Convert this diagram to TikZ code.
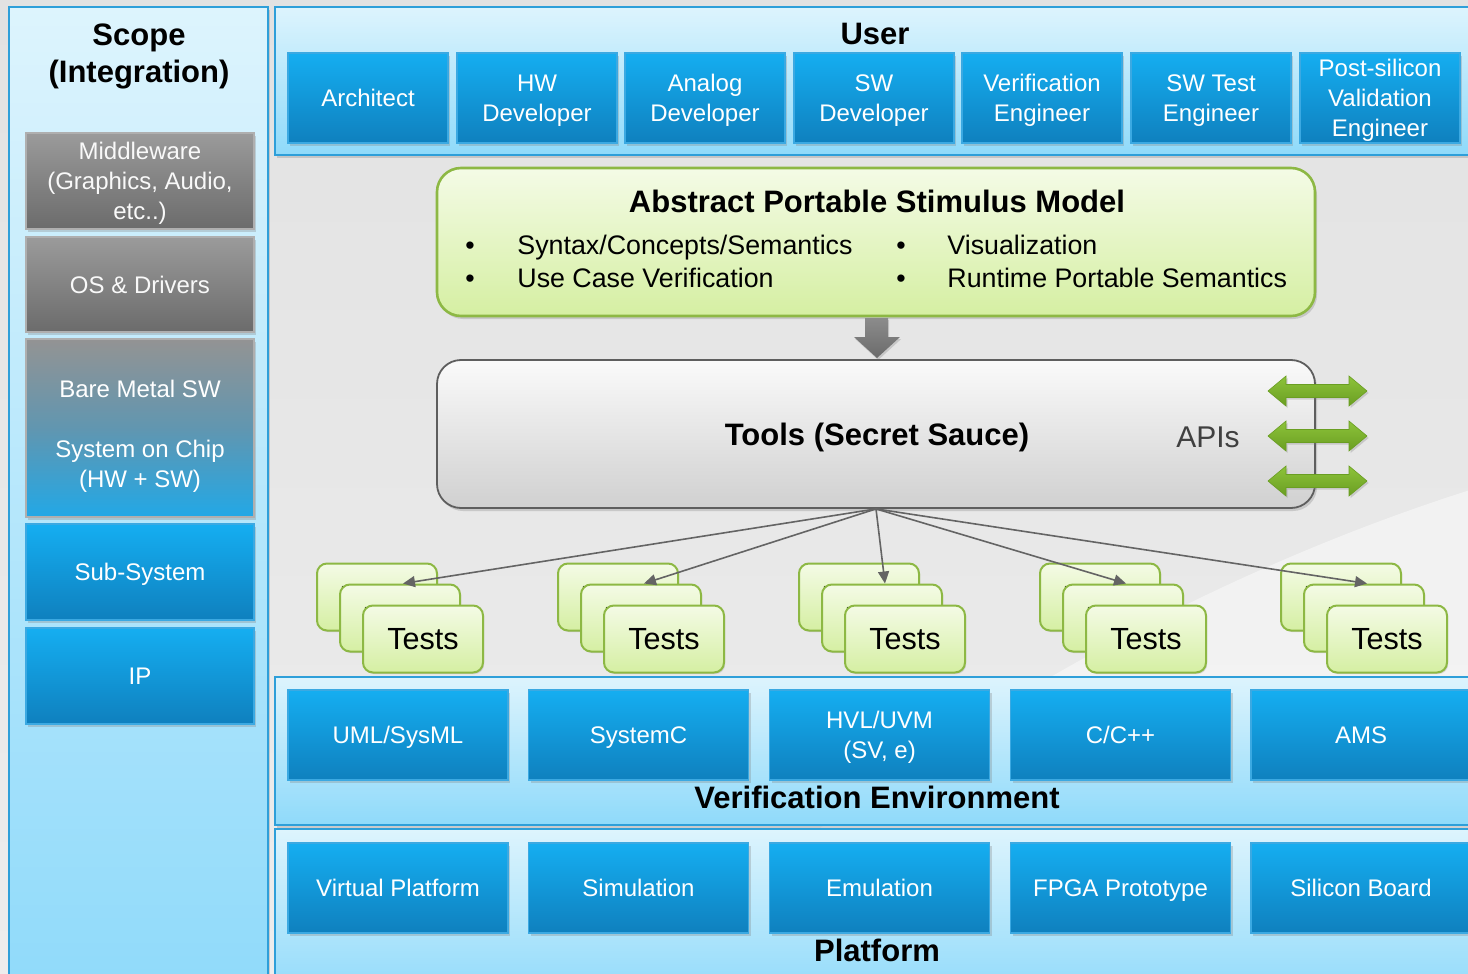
\documentclass[tikz,border=0pt]{standalone}
\usepackage{fontspec}
\setmainfont{Liberation Sans}
\usetikzlibrary{shadows,arrows.meta,calc,fit}

\definecolor{bgTop}{HTML}{E2E2E2}
\definecolor{bgBot}{HTML}{EDEDED}
\definecolor{panelTop}{HTML}{DDF4FD}
\definecolor{panelBot}{HTML}{8FDAFA}
\definecolor{panelLine}{HTML}{2E9FD9}
\definecolor{blueTop}{HTML}{15AEF1}
\definecolor{blueBot}{HTML}{0F80BE}
\definecolor{blueLine}{HTML}{3BA9E2}
\definecolor{grayTop}{HTML}{9B9B9B}
\definecolor{grayBot}{HTML}{6B6B6B}
\definecolor{mixMid}{HTML}{6196B0}
\definecolor{socBot}{HTML}{22A8E6}
\definecolor{greenTop}{HTML}{F4FBE6}
\definecolor{greenBot}{HTML}{D5EFA2}
\definecolor{greenLine}{HTML}{8DB844}
\definecolor{toolTop}{HTML}{FAFAFA}
\definecolor{toolBot}{HTML}{D0D0D0}
\definecolor{toolLine}{HTML}{5E5E5E}
\definecolor{apiTop}{HTML}{8DC33A}
\definecolor{apiBot}{HTML}{6A9E22}
\definecolor{linkGray}{HTML}{646464}
\definecolor{apiText}{HTML}{404040}

\tikzset{
  softshadow/.style={drop shadow={shadow xshift=1pt, shadow yshift=-1.5pt, opacity=0.3}},
  panel/.style={rectangle, draw=panelLine, line width=1pt, top color=panelTop,
    bottom color=panelBot, inner sep=0pt, softshadow},
  blk/.style={rectangle, draw=blueLine, line width=0.6pt, top color=blueTop,
    bottom color=blueBot, text=white, align=center, inner sep=0pt, text depth=0pt,
    font=\fontsize{12}{15}\selectfont, softshadow},
  userbox/.style={blk, minimum width=80pt, minimum height=45pt},
  envbox/.style={blk, minimum width=110pt, minimum height=45pt},
  scopebox/.style={blk, minimum width=114pt},
  graybox/.style={scopebox, draw=grayTop!80, top color=grayTop, bottom color=grayBot, text=white!95!gray},
  title/.style={font=\fontsize{15.5}{18.5}\selectfont\bfseries, align=center},
  greenbox/.style={rectangle, rounded corners=12pt, draw=greenLine, line width=1.3pt,
    top color=greenTop, bottom color=greenBot, softshadow},
  toolbox/.style={rectangle, rounded corners=12pt, draw=toolLine, line width=0.9pt,
    top color=toolTop, bottom color=toolBot, softshadow},
  testbox/.style={rectangle, rounded corners=5pt, draw=greenLine, line width=1pt,
    top color=greenTop, bottom color=greenBot, minimum width=60pt, text depth=0pt,
    minimum height=33.5pt, inner sep=0pt, font=\fontsize{15.3}{18}\selectfont,
    drop shadow={shadow xshift=0.6pt, shadow yshift=-0.8pt, opacity=0.25}},
  bullettext/.style={anchor=base west, inner sep=0pt, font=\fontsize{13.4}{16}\selectfont},
  link/.style={draw=linkGray, line width=0.8pt, -{Triangle[length=6pt,width=5.5pt]}},
  apiarrow/.pic={
    \path[top color=apiTop, bottom color=apiBot, draw=apiBot, line width=0.3pt,
      drop shadow={shadow xshift=0.8pt, shadow yshift=-1pt, opacity=0.3}]
      (-49.5,0) -- (-31.5,-15) -- (-31.5,-6.5) -- (31.5,-6.5) -- (31.5,-15)
      -- (49.5,0) -- (31.5,15) -- (31.5,6.5) -- (-31.5,6.5) -- (-31.5,15) -- cycle;
  }
}

\begin{document}
\begin{tikzpicture}[x=0.5pt, y=-0.5pt]
  \useasboundingbox (0,0) rectangle (1468,974);
  \clip (0,0) rectangle (1468,974);

  % backdrop
  \fill[top color=bgTop, bottom color=bgBot] (0,0) rectangle (1468,974);
  \fill[white, opacity=0.45] (640,974) .. controls (950,700) and (1250,560) .. (1470,490)
    -- (1470,974) -- cycle;

  % ---------- scope column ----------
  \node[panel, fit={(9,7) (268,1000)}] (scope) {};
  \node[title] at (139,56.5) {Scope\\(Integration)};
  \node[graybox, minimum height=48pt] (mw) at (140,181) {Middleware\\(Graphics, Audio,\\etc..)};
  \node[graybox, minimum height=47.5pt] (os) at (140,284.5) {OS \& Drivers};
  \node[scopebox, minimum height=89pt, draw=grayTop!80, shading=axis,
        top color=grayTop!95!black, bottom color=socBot, middle color=mixMid] (soc) at (140,428) {};
  \node[text=white, align=center, font=\fontsize{12}{15}\selectfont] at (140,436)
    {Bare Metal SW\\[15pt]System on Chip\\(HW + SW)};
  \node[scopebox, minimum height=48pt] (sub) at (140,572) {Sub-System};
  \node[scopebox, minimum height=48pt] (ip) at (140,676) {IP};

  % ---------- user row ----------
  \node[panel, fit={(275,7) (1500,155)}] (user) {};
  \node[title] at (875,34) {User};
  \node[userbox] (u1) at (368,98)  {Architect};
  \node[userbox] (u2) at (537,98)  {HW\\Developer};
  \node[userbox] (u3) at (705,98)  {Analog\\Developer};
  \node[userbox] (u4) at (874,98)  {SW\\Developer};
  \node[userbox] (u5) at (1042,98) {Verification\\Engineer};
  \node[userbox] (u6) at (1211,98) {SW Test\\Engineer};
  \node[userbox] (u7) at (1380,98) {Post-silicon\\Validation\\Engineer};

  % ---------- stimulus model ----------
  \node[greenbox, minimum width=439pt, minimum height=74pt] (aps) at (876,242) {};
  \node[title, anchor=base] at (877,213) {Abstract Portable Stimulus Model};
  \node[bullettext, anchor=base] at (470,254) {•};
  \node[bullettext, anchor=base] at (470,287) {•};
  \node[bullettext, anchor=base] at (901,254) {•};
  \node[bullettext, anchor=base] at (901,287) {•};
  \node[bullettext] at (517,254) {Syntax/Concepts/Semantics};
  \node[bullettext] at (517,287) {Use Case Verification};
  \node[bullettext] at (947,254) {Visualization};
  \node[bullettext] at (947,287) {Runtime Portable Semantics};

  % flow arrow into the tools
  \path[top color=grayTop!90!black, bottom color=grayBot,
        drop shadow={shadow xshift=0.6pt, shadow yshift=-1pt, opacity=0.3}]
    (865,318) -- (888,318) -- (888,337) -- (900,337) -- (877,358)
    -- (854,337) -- (865,337) -- cycle;

  % ---------- tools ----------
  \node[toolbox, minimum width=439pt, minimum height=74pt] (tools) at (876,434) {};
  \node[title, anchor=base] at (877,445) {Tools (Secret Sauce)};
  \node[font=\fontsize{15}{18}\selectfont, text=apiText, anchor=base] at (1208,447) {APIs};
  \foreach \ay in {391,436,481}
    \pic at (1317.5,\ay) {apiarrow};

  % ---------- test stacks ----------
  \foreach \i in {0,...,4}{
    \node[testbox] (ta\i) at ({377+241*\i},597) {Tests};
    \node[testbox] (tb\i) at ({400+241*\i},618) {Tests};
    \node[testbox] (tc\i) at ({423+241*\i},639) {Tests};
    \draw[link] (tools.south) -- ($(tb\i.north)+(3,0)$);
  }

  % ---------- verification environment ----------
  \node[panel, fit={(275,677) (1500,825)}] (venv) {};
  \node[title] at (877,797) {Verification Environment};
  \node[envbox] (e1) at (398,735)    {UML/SysML};
  \node[envbox] (e2) at (638.5,735)  {SystemC};
  \node[envbox] (e3) at (879.5,735)  {HVL/UVM\\(SV, e)};
  \node[envbox] (e4) at (1120.5,735) {C/C++};
  \node[envbox] (e5) at (1361,735)   {AMS};

  % ---------- platform ----------
  \node[panel, fit={(275,829) (1500,1000)}] (plat) {};
  \node[title] at (877,950) {Platform};
  \node[envbox] (p1) at (398,888)    {Virtual Platform};
  \node[envbox] (p2) at (638.5,888)  {Simulation};
  \node[envbox] (p3) at (879.5,888)  {Emulation};
  \node[envbox] (p4) at (1120.5,888) {FPGA Prototype};
  \node[envbox] (p5) at (1361,888)   {Silicon Board};
\end{tikzpicture}
\end{document}
